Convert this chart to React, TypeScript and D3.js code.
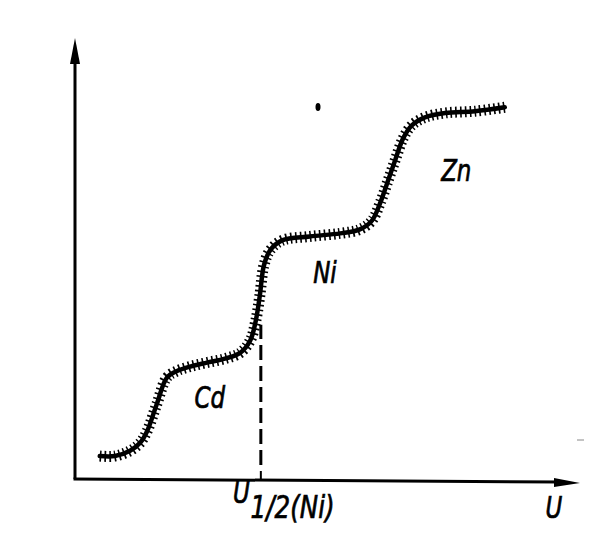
import React from 'react'
import * as d3 from 'd3'

// polarogram: current I vs potential U
const potentialU = [4.9, 7.9, 10.9, 12.9, 14.3, 16.2, 18.2, 20.2, 22.8, 26.1, 29.7, 32.7, 34.7, 35.8, 36.6, 37.4, 38.6, 41.0, 46.5, 52.5, 56.4, 58.8, 60.4, 62.0, 63.4, 65.0, 66.7, 69.3, 73.3, 79.2, 85.1]
const currentI = [5.2, 5.2, 6.4, 8.2, 10.9, 17.0, 23.0, 24.5, 25.5, 26.4, 27.3, 28.6, 31.4, 35.9, 41.6, 48.4, 51.8, 54.1, 55.0, 55.7, 56.6, 58.6, 62.5, 67.7, 72.3, 77.3, 80.2, 82.0, 83.0, 83.4, 84.3]

// half-wave potential of Ni and where the dashed line meets the curve
const halfWaveNiU = 36.8
const halfWaveNiI = 35

const ionLabels = ['Cd', 'Ni', 'Zn']
const ionLabelU = [26.7, 49.5, 75.5]
const ionLabelI = [16.0, 44.5, 67.5]

const W = 607
const H = 545

export default function App() {
  const x = d3.scaleLinear().domain([0, 100]).range([75, 580])
  const y = d3.scaleLinear().domain([0, 100]).range([479, 38])

  const pts: [number, number][] = potentialU.map((u, i) => [u, currentI[i]])
  const line = d3.line<[number, number]>()
    .x(d => x(d[0]))
    .y(d => y(d[1]))
    .curve(d3.curveCatmullRom.alpha(0.5))
  const d = line(pts) || ''

  const font = '"DejaVu Sans", sans-serif'
  // narrow, slightly heavy hand-drawn lettering
  const label = (tx: number, ty: number, children: React.ReactNode, key?: string, anchor = 'middle') => (
    <g key={key} transform={`translate(${tx},${ty}) scale(0.82,1.05)`}>
      <text x={0} y={0} textAnchor={anchor} fontFamily={font} fontStyle="italic" fontSize={28}
        fill="#000" stroke="#000" strokeWidth={0.7}>{children}</text>
    </g>
  )

  return (
    <svg width={W} height={H} style={{ position: 'absolute', left: 0, top: 0, background: '#fff' }}>
      {/* axes */}
      <line x1={x(0)} y1={y(0)} x2={x(0)} y2={y(100) + 20} stroke="#000" strokeWidth={3} />
      <path d={`M${x(0)},${y(100)} L${x(0) - 5},${y(100) + 26} L${x(0) + 5},${y(100) + 26} Z`} fill="#000" />
      <line x1={x(0) - 1.5} y1={y(0)} x2={x(100) - 20} y2={y(0) + 3} stroke="#000" strokeWidth={3} />
      <path d={`M${x(100)},${y(0) + 4} L${x(100) - 26},${y(0) - 1} L${x(100) - 26},${y(0) + 8} Z`} fill="#000" />

      {/* half-wave dashed line */}
      <line x1={x(halfWaveNiU)} y1={y(0) - 14} x2={x(halfWaveNiU)} y2={y(halfWaveNiI)}
        stroke="#000" strokeWidth={3} strokeDasharray="15 6" />
      <line x1={x(halfWaveNiU)} y1={y(0)} x2={x(halfWaveNiU)} y2={y(0) - 8} stroke="#000" strokeWidth={2} />

      {/* the wavy polarographic curve */}
      <path d={d} fill="none" stroke="#000" strokeWidth={4.5} strokeLinecap="round" />
      <path d={d} fill="none" stroke="#000" strokeWidth={11} strokeDasharray="1.6 3.2" />

      {/* small speck */}
      <ellipse cx={318} cy={107} rx={2.5} ry={4} fill="#000" />
      <line x1={577} y1={440} x2={584} y2={440} stroke="#888" strokeWidth={1} />

      {ionLabels.map((t, i) => label(x(ionLabelU[i]), y(ionLabelI[i]), t, t))}

      {label(233, 503, <>U<tspan dx={1} dy={14} fontSize={30}>1/2(Ni)</tspan></>, 'uhalf', 'start')}
      {label(554, 518, 'U', 'u')}
    </svg>
  )
}
